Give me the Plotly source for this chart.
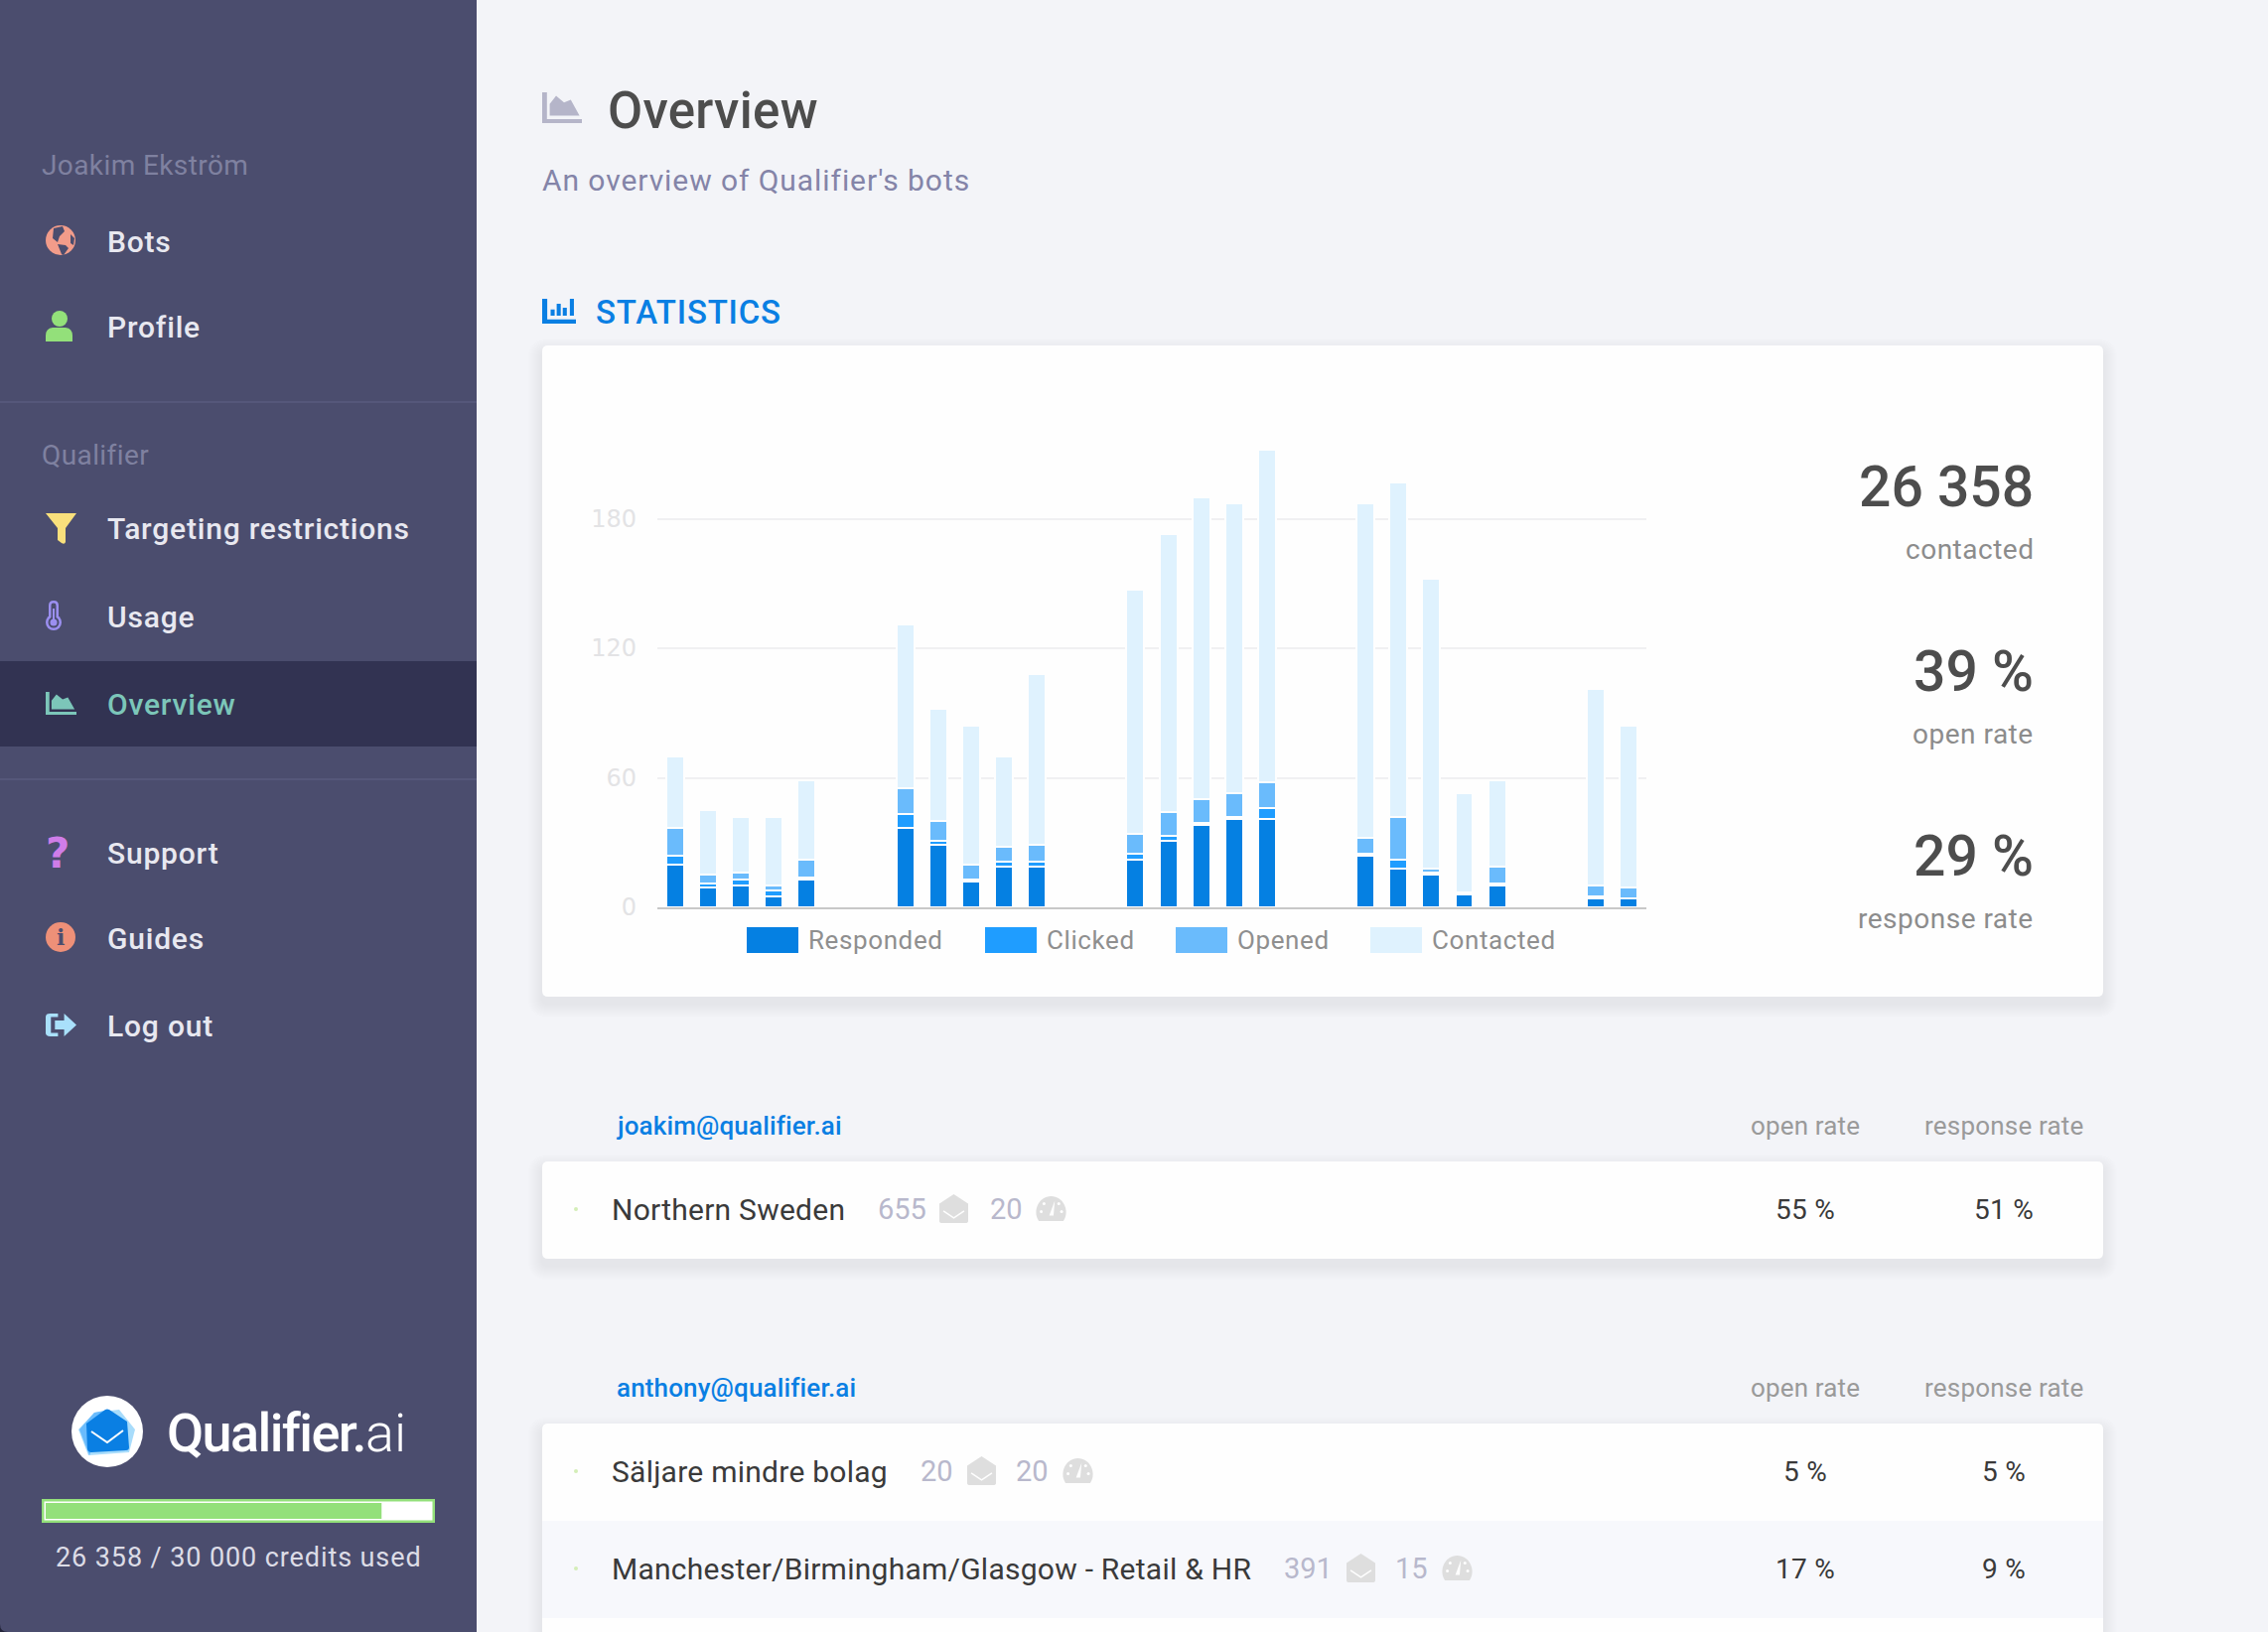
import re
import plotly.graph_objects as go

W = 2284
H = 1644

# chart data, one entry per day (None = no sends that day)
days = list(range(30))
responded = [20, 9, 10, 5, 13, None, None, 37, 29, 12, 19, 19, None, None, 22, 31, 38, 41, 41, None, None, 24, 18, 15, 6, 10, None, None, 4, 4]
clicked = [4, 2, 3, 3, 1, None, None, 6, 2, 1, 2, 2, None, None, 3, 2, 1, 1, 5, None, None, 1, 4, 1, 0, 1, None, None, 1, 0]
opened = [13, 4, 3, 2, 8, None, None, 12, 9, 7, 7, 8, None, None, 9, 11, 11, 11, 12, None, None, 7, 20, 2, 1, 8, None, None, 5, 5]
contacted = [33, 30, 26, 32, 37, None, None, 76, 52, 64, 42, 79, None, None, 113, 129, 140, 134, 154, None, None, 155, 155, 134, 46, 40, None, None, 91, 75]
y_ticks = [0, 60, 120, 180]

series_names = ["Responded", "Clicked", "Opened", "Contacted"]
series_colors = ["#0580e2", "#1f9dff", "#6abbfc", "#dff2fe"]
legend_x = [752, 992, 1184, 1380]

# summary numbers
stat_values = ["26 358", "39 %", "29 %"]
stat_labels = ["contacted", "open rate", "response rate"]
stat_y = [490, 676, 862]
credits_used = 26358
credits_total = 30000

# bot tables
bot_names = ["Northern Sweden", "Säljare mindre bolag", "Manchester/Birmingham/Glasgow - Retail & HR"]
bot_sent = ["655", "20", "391"]
bot_limit = ["20", "20", "15"]
bot_open = ["55 %", "5 %", "17 %"]
bot_response = ["51 %", "5 %", "9 %"]

SIDEBAR = "#4b4d6e"
BLUE = "#0a7fe3"
DARK = "#4d4d4d"

shapes = []
notes = []


def px(x):
    return x / W


def py(y):
    return 1 - y / H


def to_paper(path, x=0, y=0, w=1, h=1):
    # path is written in page pixels (or 0-1 units when x,y,w,h are given)
    nums = iter(range(100000))

    def conv(m):
        v = float(m.group(0))
        if next(nums) % 2 == 0:
            return f"{px(x + v * w):.6f}"
        return f"{py(y + v * h):.6f}"

    return re.sub(r"-?\d*\.?\d+", conv, path)


def add_path(path, fill, x=0, y=0, w=1, h=1, line=None, lw=0):
    shapes.append(dict(type="path", xref="paper", yref="paper", layer="below", path=to_paper(path, x, y, w, h),
                       fillcolor=fill, line=dict(color=line or "rgba(0,0,0,0)", width=lw)))


def add_rect(x0, y0, x1, y1, fill):
    shapes.append(dict(type="rect", xref="paper", yref="paper", layer="below", x0=px(x0), x1=px(x1), y0=py(y0), y1=py(y1),
                       fillcolor=fill, line=dict(width=0)))


def add_circle(cx, cy, r, fill, ry=None):
    ry = ry or r
    shapes.append(dict(type="circle", xref="paper", yref="paper", layer="below", x0=px(cx - r), x1=px(cx + r), y0=py(cy - ry), y1=py(cy + ry),
                       fillcolor=fill, line=dict(width=0)))


def round_rect(x0, y0, x1, y1, r, fill):
    p = (f"M {x0 + r} {y0} L {x1 - r} {y0} Q {x1} {y0} {x1} {y0 + r} L {x1} {y1 - r} Q {x1} {y1} {x1 - r} {y1} "
         f"L {x0 + r} {y1} Q {x0} {y1} {x0} {y1 - r} L {x0} {y0 + r} Q {x0} {y0} {x0 + r} {y0} Z")
    add_path(p, fill)


def card(x0, y0, x1, y1):
    # soft drop shadow built from stacked translucent rectangles
    for i in range(14, 0, -1):
        round_rect(x0 - i, y0 - i + 7, x1 + i, y1 + i + 7, 6 + i, "rgba(70,72,110,0.009)")
    round_rect(x0, y0, x1, y1, 6, "#fefefe")


def text(s, x, y, size, color, anchor="left", weight=400, family="Roboto", spacing=0):
    if spacing:
        s = f'<span style="letter-spacing:{spacing}px">{s}</span>'
    notes.append(dict(text=s, xref="paper", yref="paper", x=px(x), y=py(y), xanchor=anchor, yanchor="middle", showarrow=False,
                      borderpad=0, borderwidth=0, font=dict(family=family, size=size, color=color, weight=weight)))


def area_icon(x, y, w, h, color):
    add_path("M 0 0 L .12 0 L .12 .87 L 1 .87 L 1 1 L 0 1 Z", color, x, y, w, h)
    add_path("M .19 .76 L .19 .38 L .35 .11 L .55 .33 L .72 .24 L .94 .76 Z", color, x, y, w, h)


def envelope_icon(x, y):
    add_path("M 0 .33 L .5 0 L 1 .33 L 1 .93 Q 1 1 .9 1 L .1 1 Q 0 1 0 .93 Z", "#dedede", x, y, 29, 29)
    add_path("M .14 .58 L .5 .82 L .86 .58", "rgba(0,0,0,0)", x, y, 29, 29, line="#fefefe", lw=1.5)


def gauge_icon(x, y):
    add_path("M .1 1 C -.12 .6 .1 0 .5 0 C .9 0 1.12 .6 .9 1 Z", "#dedede", x, y, 31, 25)
    add_path("M .44 .78 L .62 .18 L .58 .78 Z", "#fefefe", x, y, 31, 25)
    for dot_x, dot_y in [(.18, .62), (.27, .3), (.75, .3), (.84, .62)]:
        add_circle(x + dot_x * 31, y + dot_y * 25, 1.5, "#fefefe")


# page frame
add_rect(0, 0, 480, H, SIDEBAR)
add_path("M 0 1636 Q 0 1644 8 1644 L 0 1644 Z", "#23243a")
add_rect(0, 666, 480, 752, "#323352")
add_rect(0, 404, 480, 406, "#55577a")
add_rect(0, 784, 480, 786, "#55577a")

# sidebar text
text("Joakim Ekström", 42, 167, 28, "#7f81a0", spacing=0.4)
text("Qualifier", 42, 459, 28, "#7f81a0", spacing=0.4)
menu_labels = ["Bots", "Profile", "Targeting restrictions", "Usage", "Overview", "Support", "Guides", "Log out"]
menu_y = [243, 329, 533, 621, 709, 859, 945, 1033]
for label, y in zip(menu_labels, menu_y):
    text(label, 108, y, 30, "#7cc6b9" if label == "Overview" else "#e8e8f0", weight=500, spacing=0.8)

# sidebar icons
add_circle(61, 242, 15, "#f29c8a")
add_path("M 54 230 L 63 228 L 65 233 L 60 238 L 58 244 L 53 240 Z", SIDEBAR)
add_path("M 58 246 L 66 247 L 69 250 L 64 257 L 62 256 L 60 251 Z", SIDEBAR)
add_path("M 71 236 L 75 240 L 74 247 L 71 245 Z", SIDEBAR)
add_circle(60, 321, 8, "#93e07a")
add_path("M 46 344 L 46 338 Q 46 331 53 330 L 66 330 Q 73 331 73 338 L 73 344 Z", "#93e07a")
add_path("M 46 517 L 77 517 L 66 532 L 66 546 Q 65 549 62 547 L 58 544 L 58 532 Z", "#f9e07c")
add_circle(54, 627, 8, "#9b8ff0")
round_rect(49, 605, 59, 627, 5, "#9b8ff0")
add_circle(54, 627, 5.5, SIDEBAR)
round_rect(51.5, 607.5, 56.5, 627, 2.5, SIDEBAR)
add_circle(54, 627, 3.5, "#9b8ff0")
add_rect(53, 613, 55, 627, "#9b8ff0")
area_icon(46, 697, 31, 23, "#7cc6b9")
text("?", 58, 859, 42, "#cf7de8", anchor="center", weight=700, family="DejaVu Sans")
add_circle(61, 944, 15, "#ee9078")
text("i", 61, 944, 22, SIDEBAR, anchor="center", weight=700, family="DejaVu Serif")
add_path("M .4 0 L .15 0 Q 0 0 0 .15 L 0 .85 Q 0 1 .15 1 L .4 1 L .4 .85 L .17 .85 L .17 .15 L .4 .15 Z", "#a9e0fb", 46, 1021, 31, 23)
add_path("M .3 .3 L .6 .3 L .6 0 L 1 .5 L .6 1 L .6 .7 L .3 .7 Z", "#a9e0fb", 46, 1021, 31, 23)

# logo
add_circle(108, 1442, 36, "#ffffff")
add_path("M 79 1440 L 95 1423 L 120 1420 L 136 1440 L 130 1463 L 89 1466 Z", "#a8dcfb")
add_path("M 80 1440 L 95 1423 L 110 1420 L 90 1466 Z", "#6abbfc")
add_path("M 87 1434 L 106 1420 Q 108 1419 110 1420 L 128 1432 L 130 1458 Q 130 1461 127 1461 L 92 1463 Q 89 1463 88 1460 Z", BLUE)
add_path("M 92 1442 L 108 1453 L 124 1441", "rgba(0,0,0,0)", line="#ffffff", lw=2)
text("Qualifier.", 168, 1443, 54, "#ffffff", weight=500, spacing=-1.6)
text("ai", 368, 1443, 54, "#ffffff", weight=300)

# credit bar
add_rect(42, 1510, 438, 1534, "#93e07a")
add_rect(44.5, 1512.5, 435.5, 1531.5, "#ffffff")
add_rect(46, 1514, 46 + 385 * credits_used / credits_total, 1530, "#93e07a")
text("26 358 / 30 000 credits used", 240, 1569, 27, "#dcdce6", anchor="center", spacing=0.9)

# page header
area_icon(546, 93, 40, 31, "#b5b5c9")
text("Overview", 612, 111, 51, DARK, weight=500, spacing=0.3)
text("An overview of Qualifier's bots", 546, 181, 30, "#8484a8", spacing=0.93)
add_path("M 0 0 L .15 0 L .15 .83 L 1 .83 L 1 1 L 0 1 Z", BLUE, 546, 301, 34, 25)
for bar_x, bar_top in [(.25, .43), (.43, .2), (.61, .36), (.82, .0)]:
    add_path(f"M {bar_x} {bar_top} L {bar_x + .12} {bar_top} L {bar_x + .12} .68 L {bar_x} .68 Z", BLUE, 546, 301, 34, 25)
text("STATISTICS", 600, 314, 33, BLUE, weight=500, spacing=0.8)

# statistics card
card(546, 348, 2118, 1004)
for i, name in enumerate(series_names):
    add_rect(legend_x[i], 934, legend_x[i] + 52, 960, series_colors[i])
    text(name, legend_x[i] + 62, 947, 26, "#8f8f8f", spacing=0.6)
for value, label, y in zip(stat_values, stat_labels, stat_y):
    text(value, 2048, y, 57, DARK, anchor="right", weight=500)
    text(label, 2048, y + 63, 28, "#8c8c8c", anchor="right", spacing=0.5)

# bot tables
for owner, owner_x, y in [("joakim@qualifier.ai", 619.5, 1134), ("anthony@qualifier.ai", 621.5, 1398)]:
    text(owner, owner_x, y, 26, BLUE, weight=500, spacing=0.15)
    text("open rate", 1818, y, 26, "#9a9a9a", anchor="center", spacing=0.15)
    text("response rate", 2018, y, 26, "#9a9a9a", anchor="center", spacing=0.2)

card(546, 1170, 2118, 1268)
card(546, 1434, 2118, 1680)
add_rect(546, 1532, 2118, 1630, "#f7f8fc")

row_y = [1218, 1482, 1580]
sent_x = [884, 927, 1293]
env_x = [946, 974, 1356]
limit_x = [997, 1023, 1405]
gauge_x = [1043, 1070, 1452]
for i, name in enumerate(bot_names):
    y = row_y[i]
    add_circle(580, y, 2, "#d4eeb8")
    text(name, 616, y, 30, "#3a3a3a", spacing=0.25)
    text(bot_sent[i], sent_x[i], y, 29, "#b8b8cc")
    envelope_icon(env_x[i], y - 15)
    text(bot_limit[i], limit_x[i], y, 29, "#b8b8cc")
    gauge_icon(gauge_x[i], y - 13)
    text(bot_open[i], 1818, y, 28, "#3a3a3a", anchor="center", spacing=0.3)
    text(bot_response[i], 2018, y, 28, "#3a3a3a", anchor="center", spacing=0.3)

# stacked bars, white outline gives the gaps between segments
fig = go.Figure()
for name, values, color in zip(series_names, [responded, clicked, opened, contacted], series_colors):
    fig.add_trace(go.Bar(x=days, y=values, name=name, marker_color=color, marker_line=dict(color="#fefefe", width=2), showlegend=False))

fig.update_layout(
    width=W,
    height=H,
    margin=dict(l=0, r=0, t=0, b=0, autoexpand=False),
    barmode="stack",
    bargap=0.458,
    paper_bgcolor="#f3f4f8",
    plot_bgcolor="rgba(0,0,0,0)",
    shapes=shapes,
    annotations=notes,
    xaxis=dict(domain=[px(662), px(1658)], range=[-0.544, 29.544], showticklabels=False, showgrid=False, zeroline=False, automargin=False,
               showline=True, linecolor="#c8c8c8", linewidth=2, fixedrange=True),
    yaxis=dict(domain=[py(914), py(914 - 2.175 * 220)], range=[0, 220], tickvals=y_ticks, showgrid=True, gridcolor="#f0f0f2", gridwidth=2, automargin=False,
               zeroline=False, ticklabelstandoff=20, tickfont=dict(family="DejaVu Sans", size=24, color="#e3e3e5"), fixedrange=True),
)

fig.write_html("out.html", config=dict(displayModeBar=False), post_script="document.body.style.margin='0';")
